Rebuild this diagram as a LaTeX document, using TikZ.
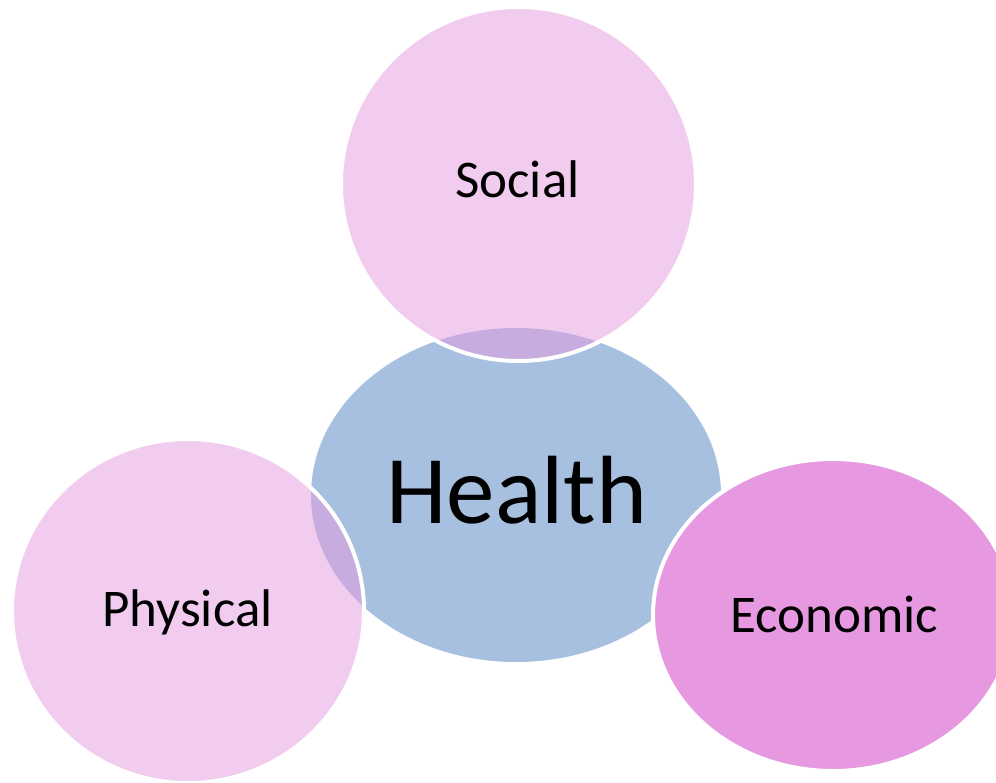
\documentclass[tikz,border=0pt]{standalone}
\usepackage{fontspec}
\setmainfont{Carlito}
\usetikzlibrary{shapes.geometric}

\definecolor{healthblue}{HTML}{A8C0DF}
\definecolor{areapink}{HTML}{E699E0}

\begin{document}
\begin{tikzpicture}
[x=1pt,y=-1pt,
blob/.style={draw=white,line width=4pt,ellipse,inner sep=0pt},
lbl/.style={anchor=base,inner sep=0pt,text=black,font=\fontsize{53}{64}\selectfont},]

\useasboundingbox (0,0) rectangle (996,782);

%Centre ellipse
\node (H) at (516,495)[ellipse,inner sep=0pt,fill=healthblue,minimum width=410pt,minimum height=334pt] {};

%Outer areas
\node (S) at (518.5,184)[blob,fill=areapink,fill opacity=0.5,minimum width=355pt,minimum height=354pt] {};
\node (P) at (188,611)[blob,fill=areapink,fill opacity=0.5,minimum width=352pt,minimum height=344pt] {};
\node (E) at (833,615)[blob,fill=areapink,minimum width=360pt,minimum height=312pt] {};

%Labels
\node (Ht) at (517,523)[lbl,font=\fontsize{97}{116}\selectfont] {Health};
\node (St) at (517.5,197)[lbl] {Social};
\node (Pt) at (187.5,626)[lbl] {Physical};
\node (Et) at (834.5,632)[lbl] {Economic};

\end{tikzpicture}
\end{document}
